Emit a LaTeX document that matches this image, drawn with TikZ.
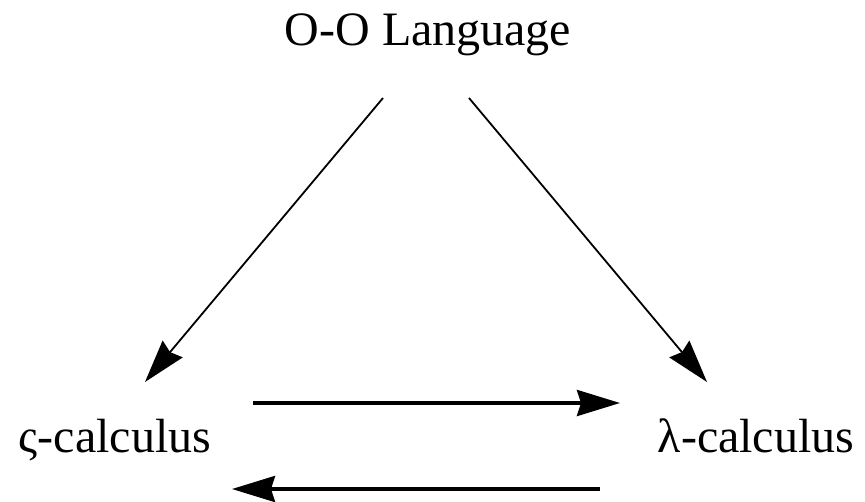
\documentclass[tikz,border=0pt]{standalone}
\usepackage{fontspec}
\setmainfont{Liberation Serif}
\usetikzlibrary{arrows.meta,calc}
\begin{document}
\begin{tikzpicture}[x=1pt,y=-1pt,
  lbl/.style={anchor=base,inner sep=0pt,font=\fontsize{48}{56}\selectfont},
  tipstyle/.style={-{Stealth[length=43pt,width=26pt,inset=4pt]}},
  diag/.style={tipstyle,line width=1.8pt},
  horiz/.style={tipstyle,line width=3.5pt}]
\useasboundingbox (0,0) rectangle (865,501);
\node[lbl] (top) at (428,45) {O-O Language};
\node[lbl] (left) at (115,452) {ς-calculus};
\node[lbl] (right) at (756,452) {λ-calculus};
\draw[diag] ($(top.base)+(-45,53)$) -- ($(left.base)+(30,-70)$);
\draw[diag] ($(top.base)+(41,53)$) -- ($(right.base)+(-49,-70)$);
\draw[horiz] ($(left.base)+(138,-49)$) -- ($(right.base)+(-136,-49)$);
\draw[horiz] ($(right.base)+(-156,37)$) -- ($(left.base)+(117,37)$);
\end{tikzpicture}
\end{document}
